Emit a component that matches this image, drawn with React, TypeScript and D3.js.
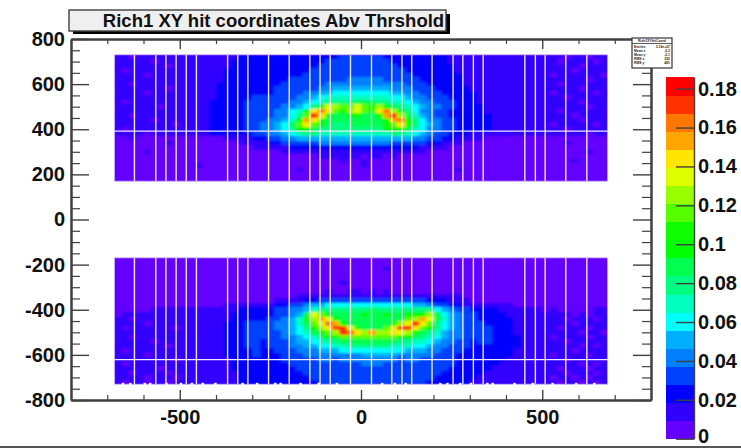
import React, { useRef, useEffect } from 'react';
import * as d3 from 'd3';

const titleText = 'Rich1 XY hit coordinates Abv Thrshold';

// colour contours from bottom to top of the palette
const palette = [
  '#6400ff', '#3000ff', '#0000ff', '#0040ff', '#0080ff',
  '#00b0ff', '#00ffff', '#00ffc0', '#00ff80', '#00ff50',
  '#00ff00', '#10ff00', '#55ff00', '#99ff00', '#ddff00',
  '#ffe600', '#ffa500', '#ff7700', '#ff3300', '#ff0000',
];
const zMax = 0.186;
const zTicks = [0, 0.02, 0.04, 0.06, 0.08, 0.1, 0.12, 0.14, 0.16, 0.18];

const xMajor = [-500, 0, 500];
const xMinor = [-700, -600, -400, -300, -200, -100, 100, 200, 300, 400, 600, 700];
const yMajor = [-800, -600, -400, -200, 0, 200, 400, 600, 800];
const yMinor = d3.range(-750, 800, 50).filter(v => v % 200 !== 0);

// dead regions between the pixel columns, in cm
const xGaps = [-625, -566, -538, -510, -482, -454, -368, -340, -312, -255, -198, -141, -113, -85, -29, 29, 85, 113, 140, 196, 254, 281, 310, 337, 452, 481, 508, 565, 623];
const yGaps = [392, -621];
const bottomNotches = [-660, -640, -600, -585, -540, -500, -470, -440, -405, -330, -290, -240, -225, -170, -120, -70, 55, 90, 120, 215, 235, 270, 300, 345, 360, 420, 470, 525, 590, 640];

const cellSize = 20;
const xStart = -680;
const upperTop = 730;
const lowerTop = -170;

// contour level per cell (base 20 digit), 68 columns, rows top to bottom
const upperRows = [
  '1101111111 1111111222 2222222222 2333333222 2222221111 1111111111 11011011',
  '1111101111 1111112222 2222222223 3333333322 2222221111 1111111111 10111101',
  '1111111011 1111112222 2222222233 3333333332 2222222111 1111111111 11110111',
  '1011111111 1111122222 2222222333 3333333333 2222222111 1111111111 11101111',
  '1111011111 1111122222 2222223333 3333333333 3222222211 1111111111 01111110',
  '1111111111 1111122222 2222333333 3344444333 3322222211 1111111111 11111011',
  '1101111111 1111222222 2223333334 4444444444 3332222211 1111111111 10111111',
  '1111111011 1111222222 2233333344 5555555544 4333222221 1111111111 11110111',
  '1111011111 1111222222 2233334455 6666666655 4433322222 1111111111 01111101',
  '1111111111 1111222223 3333344567 7777777766 5443332222 1111111111 11011111',
  '1011111111 1112222233 3333445678 8889998877 6544333222 1111111111 11110111',
  '1111110111 1112222233 3334456 8be dccecbdb98 7654433222 2111111111 11111011',
  '1111111111 1112222233 334467afhf cbdecbfhda 8644332222 2111111111 10111111',
  '1101111111 1112222233 334468cifb 99aa99agid 9754332222 2211111111 11101111',
  '1111101111 1112222233 34457agfb9 9999999bgh a864433222 2211111111 11110111',
  '1111111101 1112222233 44569cfca9 8899999acf b865433222 2211111111 01111101',
  '1011111111 1112222233 44568aa988 8888888aab 9764433222 2211111111 11011111',
  '1111011111 1112222223 3445678877 7777777788 7654332221 1111111111 11111011',
  '0010000000 0000011112 2334455555 5555555555 5443322111 1000000000 00000000',
  '0000000100 0000000111 1223333344 4444444433 3332211100 0000000000 00100000',
  '0000000000 0000000001 1111222222 2222222222 2211110000 0000000000 00000000',
  '0000100000 0000000000 0001111111 1111111111 1110000000 0000000000 00000100',
  '0000000000 0000000000 0000000011 1111011010 0000000000 0000000000 00000000',
  '0000000000 0000000000 0000000000 0100100000 0000000000 0000000000 00010000',
  '0000000000 0100000000 0000000000 0000100000 0000000000 0000000000 00000000',
  '0000000000 0000000000 0000010000 0000000000 0000000100 0000000000 00000000',
  '0000000000 0000000000 0000000000 0000000000 0000000000 0000000000 00000000',
  '0000000000 0000000000 0000000000 0000000000 0000000000 0000000000 00000000',
];

const lowerRows = [
  '0000000000 0000000000 0000000000 0000000000 0000000000 0000000000 00000000',
  '0000000000 0000000000 0000000000 0000000000 0000000000 0000000000 00000000',
  '0000000000 0000000000 0000000000 0000000100 0000000000 0000000000 00000000',
  '0000000000 0000000000 0000000000 0000000000 0000000000 0000000000 00000000',
  '0000000000 0000000000 0000000000 0000000000 0000000000 0000000000 00000000',
  '0000000000 0000000000 0000000000 0100000000 0000000000 0000000000 00000000',
  '0000000000 0000000000 0000000000 0000000000 0000000000 0000000000 00000000',
  '0000000000 0000000000 0000000001 0011010100 0000000000 0000000000 00000000',
  '0000000000 0000000000 0000011111 1111111111 1111111100 0000000000 00000000',
  '0000000000 0000000000 0011112233 3333333333 3332221110 0000000000 00000000',
  '0000000000 0000011111 1122334556 6666666666 6554332211 1111100000 00000000',
  '0000011111 1111111222 2233445788 8888898888 8888654332 2221111110 10000011',
  '0111111111 1111112222 2233459eca 9999a99a99 abbd965433 2222111111 11101011',
  '1101111111 1111112222 233457adge a999999999 cdge975433 2222211111 11011101',
  '1111011111 1111122233 3344579ceh gb999999ad fifc865433 3222211111 11101111',
  '1011111101 1111122233 3344568adf iieb999cei jfca865433 3322211111 10111011',
  '1111111111 1111122233 33345679bc dihfdgddfe db98754433 3322211111 11110110',
  '1101111111 1111122233 333445679a bccccccccb a987654433 3322221111 01111011',
  '1111101111 1111122233 2333455678 8999999998 8776544332 3322221111 11011111',
  '1111111011 1111122233 2333445566 7788888877 7665443332 2222221111 11110101',
  '1011111111 1111122223 2233344455 5666666666 5554433322 2222211111 11101111',
  '1111011111 1111122223 2223334444 4444555554 4444333222 2222211111 01111011',
  '1111111101 1111112222 2223333344 3444444443 4433333222 2222111111 11011111',
  '1011111111 1111112222 2222333333 3333444333 3333333222 2221111111 11110101',
  '1111110111 1111112222 2222233333 3333333333 3333332222 2211111111 10111011',
  '1101111011 1111111222 2222223333 3333333333 3333322222 2111111111 11011101',
  '1111011101 1111111222 2222222333 3333333333 3333222222 1111111111 01101011',
  '1011011011 1111111222 2222222233 3333333333 3332222221 1111111111 10110101',
];

const statLabels = ['Entries', 'Mean x', 'Mean y', 'RMS x', 'RMS y'];
const statValues = ['3.16e+07', '-0.3', '-2.1', '352', '481'];

const axisColor = '#404040';

function App() {
  const svgRef = useRef<SVGSVGElement | null>(null);

  useEffect(() => {
    const svg = d3.select(svgRef.current);
    svg.selectAll('*').remove();

    const left = 71, right = 651, top = 39, bottom = 400;
    const x = d3.scaleLinear().domain([-800, 800]).range([left, right]);
    const y = d3.scaleLinear().domain([-800, 800]).range([bottom, top]);
    const z = d3.scaleLinear().domain([0, zMax]).range([438.7, 77]);

    // soften the cell edges, the reference is a scaled down bitmap
    const defs = svg.append('defs');
    defs.append('filter')
      .attr('id', 'soft')
      .attr('x', '-5%').attr('y', '-5%').attr('width', '110%').attr('height', '110%')
      .append('feGaussianBlur')
      .attr('stdDeviation', '1.5 0.8');

    // heat map cells
    const drawBand = (rows: string[], yTop: number, id: string) => {
      const bandH = rows.length * cellSize;
      const bx = x(xStart), by = y(yTop);
      const bw = x(-xStart) - x(xStart), bh = y(yTop - bandH) - y(yTop);
      defs.append('clipPath').attr('id', id)
        .append('rect').attr('x', bx).attr('y', by).attr('width', bw).attr('height', bh);

      const band = svg.append('g').attr('clip-path', `url(#${id})`);
      band.append('rect').attr('x', bx).attr('y', by).attr('width', bw).attr('height', bh)
        .attr('fill', palette[0]);

      const cells = rows.flatMap((row, r) =>
        row.replace(/ /g, '').split('').map((ch, c) => ({ r, c, level: parseInt(ch, 20) }))
      );
      band.append('g')
        .attr('filter', 'url(#soft)')
        .attr('shape-rendering', 'crispEdges')
        .selectAll('rect')
        .data(cells)
        .join('rect')
        .attr('x', d => x(xStart + d.c * cellSize))
        .attr('y', d => y(yTop - d.r * cellSize))
        .attr('width', x(cellSize) - x(0) + 0.5)
        .attr('height', y(0) - y(cellSize) + 0.5)
        .attr('fill', d => palette[d.level]);

      // dead columns, slightly lilac
      svg.append('g').selectAll('line')
        .data(xGaps)
        .join('line')
        .attr('x1', d => x(d)).attr('x2', d => x(d))
        .attr('y1', by).attr('y2', by + bh)
        .attr('stroke', '#efe6ff')
        .attr('stroke-width', 1.4);
      svg.append('rect')
        .attr('x', bx).attr('y', by).attr('width', bw).attr('height', bh)
        .attr('fill', 'none')
        .attr('stroke', '#c8a8ff')
        .attr('stroke-width', 0.8);
    };
    drawBand(upperRows, upperTop, 'upper-band');
    drawBand(lowerRows, lowerTop, 'lower-band');

    svg.append('g').selectAll('line')
      .data(yGaps)
      .join('line')
      .attr('x1', x(xStart)).attr('x2', x(-xStart))
      .attr('y1', d => y(d)).attr('y2', d => y(d))
      .attr('stroke', '#efe6ff')
      .attr('stroke-width', 1.2);

    // jagged lower edge of the bottom band
    svg.append('g').selectAll('rect')
      .data(bottomNotches)
      .join('rect')
      .attr('x', d => x(d))
      .attr('y', y(lowerTop - lowerRows.length * cellSize) - 1.4)
      .attr('width', 2.5)
      .attr('height', 2.4)
      .attr('fill', '#fff');

    // axes with inward ticks, on all four sides
    const styleAxis = (g: any, width: number) => {
      g.selectAll('path').attr('stroke', axisColor).attr('stroke-width', 2);
      g.selectAll('line').attr('stroke', axisColor).attr('stroke-width', width);
      g.selectAll('text')
        .attr('fill', '#111')
        .attr('font-family', '"Liberation Sans", Arial, sans-serif')
        .attr('font-weight', 'bold')
        .attr('font-size', 20);
    };

    const bottomAxis = svg.append('g')
      .attr('transform', `translate(0,${bottom})`)
      .call(d3.axisBottom(x).tickValues(xMajor).tickSize(-10).tickSizeOuter(0).tickPadding(10).tickFormat(d => String(d)));
    styleAxis(bottomAxis, 1.4);
    const bottomMinor = svg.append('g')
      .attr('transform', `translate(0,${bottom})`)
      .call(d3.axisBottom(x).tickValues(xMinor).tickSize(-5).tickSizeOuter(0).tickFormat(() => ''));
    styleAxis(bottomMinor, 1.2);

    const topAxis = svg.append('g')
      .attr('transform', `translate(0,${top})`)
      .call(d3.axisTop(x).tickValues(xMajor).tickSize(-10).tickSizeOuter(0).tickFormat(() => ''));
    styleAxis(topAxis, 1.4);
    const topMinor = svg.append('g')
      .attr('transform', `translate(0,${top})`)
      .call(d3.axisTop(x).tickValues(xMinor).tickSize(-5).tickSizeOuter(0).tickFormat(() => ''));
    styleAxis(topMinor, 1.2);

    const leftAxis = svg.append('g')
      .attr('transform', `translate(${left},0)`)
      .call(d3.axisLeft(y).tickValues(yMajor).tickSize(-18).tickSizeOuter(0).tickPadding(6).tickFormat(d => String(d)));
    styleAxis(leftAxis, 1.4);
    const leftMinor = svg.append('g')
      .attr('transform', `translate(${left},0)`)
      .call(d3.axisLeft(y).tickValues(yMinor).tickSize(-9).tickSizeOuter(0).tickFormat(() => ''));
    styleAxis(leftMinor, 1.2);

    const rightAxis = svg.append('g')
      .attr('transform', `translate(${right},0)`)
      .call(d3.axisRight(y).tickValues(yMajor).tickSize(-18).tickSizeOuter(0).tickFormat(() => ''));
    styleAxis(rightAxis, 1.4);
    const rightMinor = svg.append('g')
      .attr('transform', `translate(${right},0)`)
      .call(d3.axisRight(y).tickValues(yMinor).tickSize(-9).tickSizeOuter(0).tickFormat(() => ''));
    styleAxis(rightMinor, 1.2);

    // colour bar
    const barLeft = 666, barRight = 694;
    const step = zMax / palette.length;
    svg.append('g')
      .attr('shape-rendering', 'crispEdges')
      .selectAll('rect')
      .data(palette)
      .join('rect')
      .attr('x', barLeft)
      .attr('y', (d, i) => z((i + 1) * step))
      .attr('width', barRight - barLeft)
      .attr('height', (d, i) => z(i * step) - z((i + 1) * step) + 0.5)
      .attr('fill', d => d);
    const zAxis = svg.append('g')
      .attr('transform', `translate(${barRight},0)`)
      .call(d3.axisRight(z).tickValues(zTicks).tickSize(-18).tickSizeOuter(0).tickPadding(4).tickFormat(d => String(d)));
    styleAxis(zAxis, 1.4);
    zAxis.selectAll('path').attr('stroke-width', 1.4);
    // keep the lowest label inside the page
    zAxis.selectAll('text').filter(d => d === 0).attr('dy', '0.2em');

    // title box with drop shadow
    svg.append('rect').attr('x', 73).attr('y', 14).attr('width', 377).attr('height', 20).attr('fill', '#000');
    svg.append('rect').attr('x', 69).attr('y', 10).attr('width', 377).attr('height', 21)
      .attr('fill', '#efefef').attr('stroke', '#404040').attr('stroke-width', 1.4);
    svg.append('text')
      .attr('x', 273.5).attr('y', 26.5)
      .attr('text-anchor', 'middle')
      .attr('font-family', '"Liberation Sans", Arial, sans-serif')
      .attr('font-weight', 'bold')
      .attr('font-size', 18.5)
      .attr('fill', '#111')
      .text(titleText);

    // stats box, text too small to read in the reference
    const stats = svg.append('g')
      .attr('font-family', '"Liberation Sans", Arial, sans-serif')
      .attr('font-weight', 'bold')
      .attr('font-size', 3.4)
      .attr('fill', '#222');
    stats.append('rect').attr('x', 632).attr('y', 38).attr('width', 40).attr('height', 30)
      .attr('fill', '#fff').attr('stroke', '#333').attr('stroke-width', 1.2);
    stats.append('line').attr('x1', 632).attr('x2', 672).attr('y1', 43.5).attr('y2', 43.5)
      .attr('stroke', '#333').attr('stroke-width', 0.8);
    stats.append('text').attr('x', 652).attr('y', 42).attr('text-anchor', 'middle').text('Rich1XYhitCoord');
    const statY = d3.scalePoint().domain(statLabels).range([48, 64]);
    stats.selectAll('text.label').data(statLabels).join('text')
      .attr('class', 'label').attr('x', 634).attr('y', d => statY(d) as number).text(d => d);
    stats.selectAll('text.value').data(statValues).join('text')
      .attr('class', 'value').attr('x', 670).attr('text-anchor', 'end')
      .attr('y', (d, i) => statY(statLabels[i]) as number).text(d => d);

    // edge of the capture at the bottom
    svg.append('line').attr('x1', 0).attr('x2', 741).attr('y1', 447).attr('y2', 447)
      .attr('stroke', '#555').attr('stroke-width', 2);
  }, []);

  return (
    <svg
      ref={svgRef}
      width={741}
      height={448}
      style={{ position: 'absolute', left: 0, top: 0, background: '#fff' }}
    />
  );
}

export default App;
